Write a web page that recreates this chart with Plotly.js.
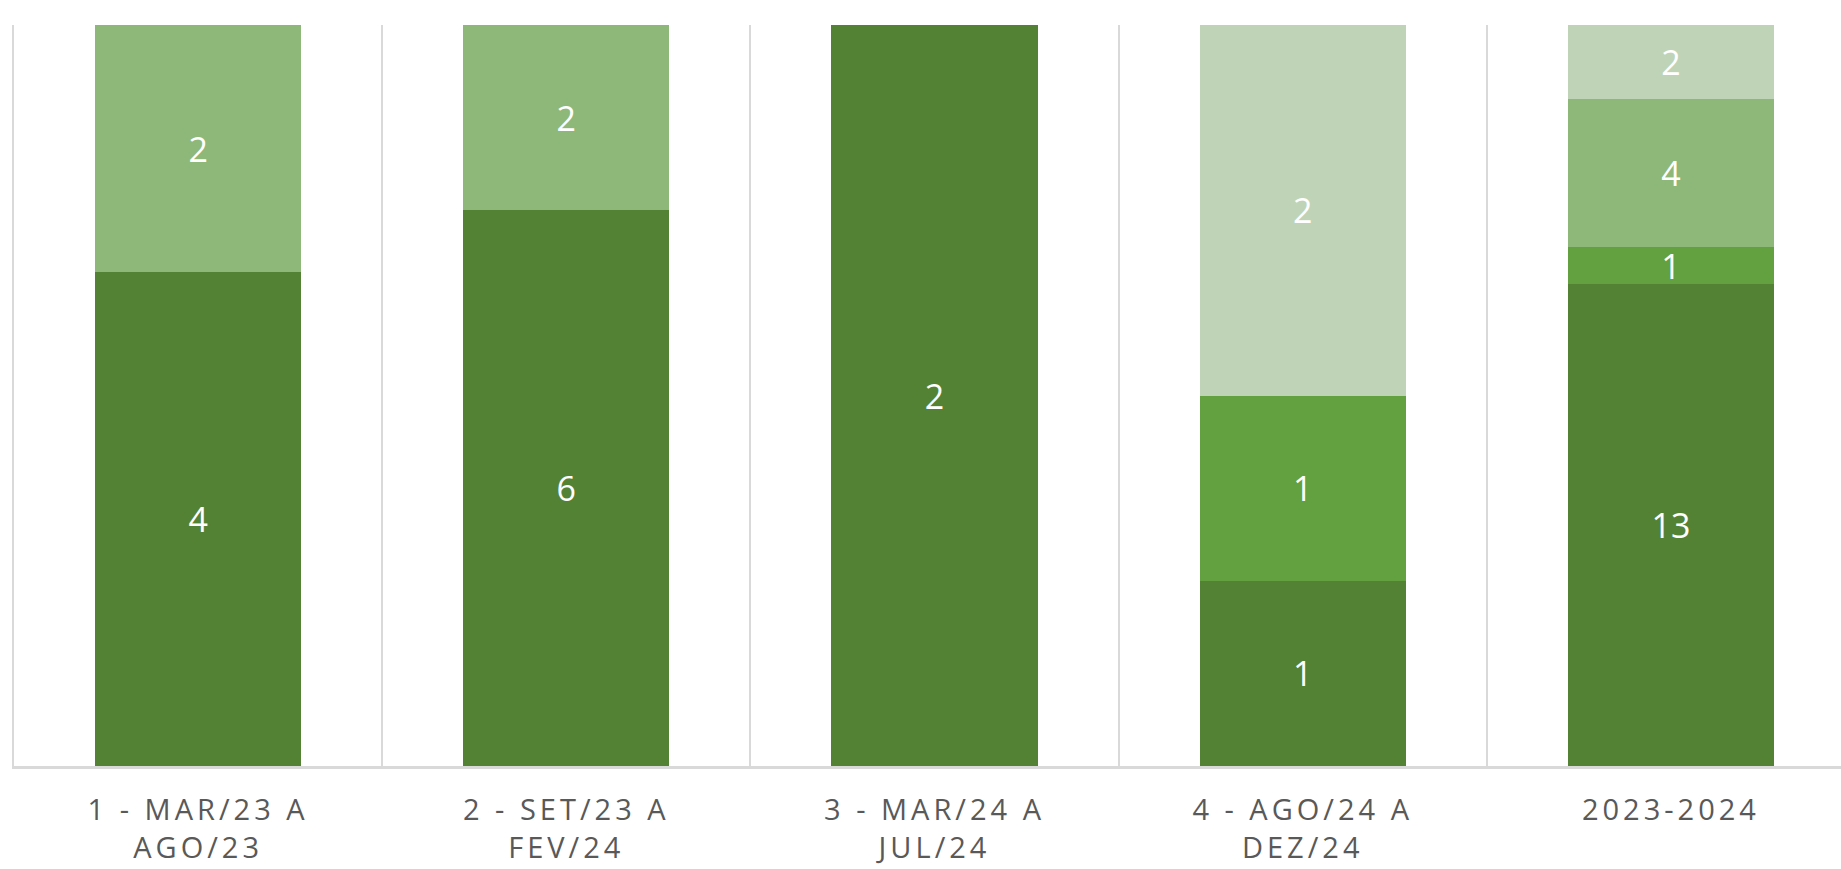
<!DOCTYPE html>
<html>
<head>
<meta charset="utf-8">
<script src="https://cdn.plot.ly/plotly-3.0.1.min.js"></script>
<style>
html,body{margin:0;padding:0;background:#fff;}
#chart{width:1841px;height:869px;}
.xtick text{letter-spacing:4px;}
</style>
</head>
<body>
<div id="chart"></div>
<script>
const categories = ["1 - MAR/23 A<br>AGO/23", "2 - SET/23 A<br>FEV/24", "3 - MAR/24 A<br>JUL/24", "4 - AGO/24 A<br>DEZ/24", "2023-2024"];
const seriesA = [4, 6, 2, 1, 13];
const seriesB = [null, null, null, 1, 1];
const seriesC = [2, 2, null, null, 4];
const seriesD = [null, null, null, 2, 2];
const seriesNames = ["Série 1", "Série 2", "Série 3", "Série 4"];
const colors = ["#548235", "#63A040", "#8DB87A", "#BFD4B6"];

const allSeries = [seriesA, seriesB, seriesC, seriesD];
const traces = allSeries.map((vals, i) => ({
  type: "bar",
  name: seriesNames[i],
  x: categories,
  y: vals,
  text: vals.map(v => v === null ? "" : String(v)),
  textposition: "inside",
  insidetextanchor: "middle",
  textangle: 0,
  constraintext: "none",
  textfont: {color: "#ffffff", size: 34, family: "Open Sans, sans-serif"},
  marker: {color: colors[i], line: {width: 0}},
  hoverinfo: "skip"
}));

const layout = {
  width: 1841,
  height: 869,
  margin: {l: 14, r: 0, t: 25, b: 103},
  paper_bgcolor: "#ffffff",
  plot_bgcolor: "#ffffff",
  barmode: "stack",
  barnorm: "percent",
  bargap: 0.44,
  showlegend: false,
  xaxis: {
    type: "category",
    range: [-0.5, 4.462],
    tickson: "boundaries",
    showgrid: true,
    gridcolor: "#D9D9D9",
    gridwidth: 2,
    showline: true,
    linecolor: "#D9D9D9",
    linewidth: 3,
    ticks: "",
    ticklen: 0,
    ticklabelstandoff: 16,
    tickfont: {family: "Open Sans, sans-serif", size: 29, color: "#595959"},
    fixedrange: true
  },
  yaxis: {
    range: [0, 100],
    showgrid: false,
    zeroline: false,
    showticklabels: false,
    showline: true,
    linecolor: "#D9D9D9",
    linewidth: 2,
    ticks: "",
    fixedrange: true
  }
};

Plotly.newPlot("chart", traces, layout, {displayModeBar: false, staticPlot: true});
</script>
</body>
</html>
